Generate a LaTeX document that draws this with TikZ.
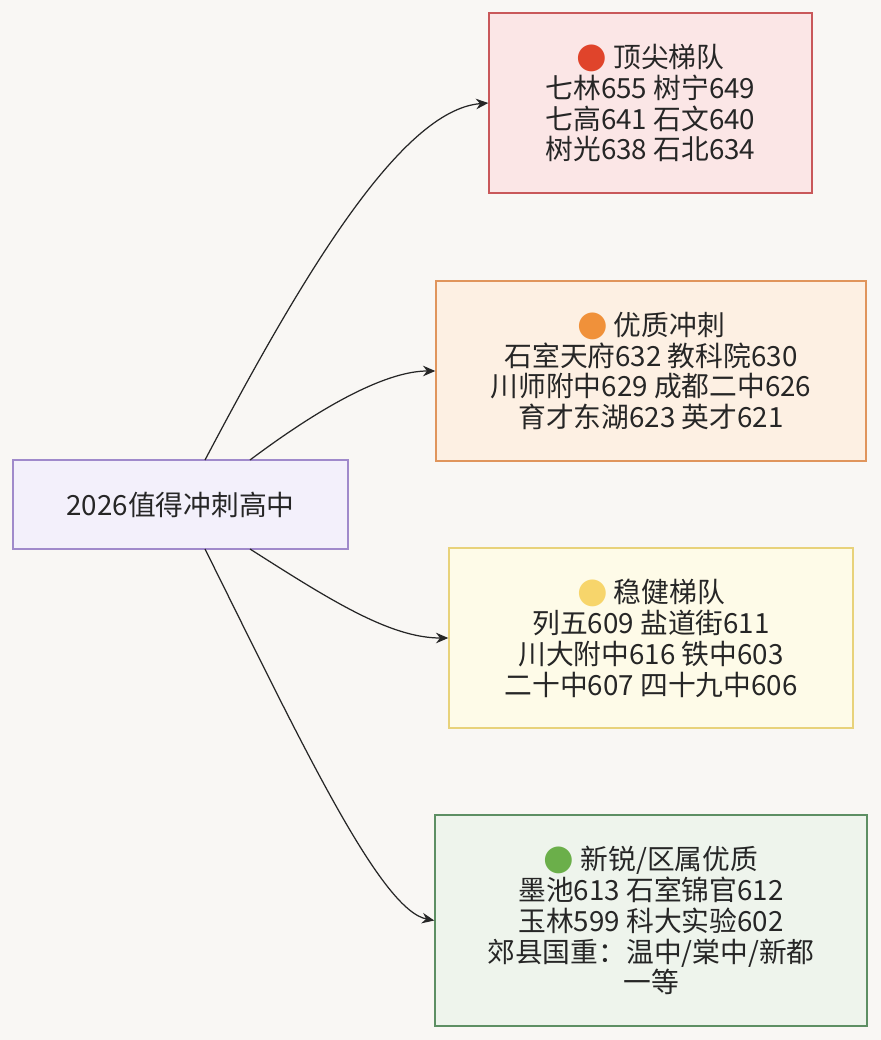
\documentclass[tikz,border=0pt]{standalone}
\usepackage{fontspec}
\setmainfont{Noto Sans CJK SC}
\newfontfamily\dotfont{DejaVu Sans}
\usetikzlibrary{arrows.meta}
\definecolor{bgc}{HTML}{F9F7F4}
\definecolor{srcfill}{HTML}{F3F0FB}\definecolor{srcline}{HTML}{A08ACB}
\definecolor{redfill}{HTML}{FBE6E6}\definecolor{redline}{HTML}{C9585A}
\definecolor{orgfill}{HTML}{FDF0E3}\definecolor{orgline}{HTML}{E0955C}
\definecolor{yelfill}{HTML}{FEFBE8}\definecolor{yelline}{HTML}{E8D27A}
\definecolor{grnfill}{HTML}{EEF4EC}\definecolor{grnline}{HTML}{5D8F63}
\definecolor{dotred}{HTML}{E0442B}\definecolor{dotorg}{HTML}{F0913A}
\definecolor{dotyel}{HTML}{F7D56B}\definecolor{dotgrn}{HTML}{6BAF4A}
\newcommand{\mydot}[1]{{\dotfont\fontsize{20}{17.6}\selectfont\color{#1}●}}
\tikzset{
  box/.style={rectangle,draw,line width=0.8pt,align=center,font=\fontsize{15.8}{17.6}\selectfont,text=black!85,inner sep=0pt},
  link/.style={draw=black!85,line width=0.7pt,-{Stealth[length=7pt,width=6pt]}}
}
\begin{document}
\begin{tikzpicture}[x=0.02cm,y=-0.02cm]
\fill[bgc] (0,0) rectangle (881,1040);
\useasboundingbox (0,0) rectangle (881,1040);
\node[box,fill=srcfill,draw=srcline,minimum width=335*0.02cm,minimum height=89*0.02cm] (src) at (180.5,504.5) {2026值得冲刺高中};
\node[box,fill=redfill,draw=redline,minimum width=323*0.02cm,minimum height=180*0.02cm] (top) at (650.5,103) {\mydot{dotred} 顶尖梯队\\七林655 树宁649\\七高641 石文640\\树光638 石北634};
\node[box,fill=orgfill,draw=orgline,minimum width=430*0.02cm,minimum height=180*0.02cm] (good) at (651,371) {\mydot{dotorg} 优质冲刺\\石室天府632 教科院630\\川师附中629 成都二中626\\育才东湖623 英才621};
\node[box,fill=yelfill,draw=yelline,minimum width=404*0.02cm,minimum height=180*0.02cm] (safe) at (651,638) {\mydot{dotyel} 稳健梯队\\列五609 盐道街611\\川大附中616 铁中603\\二十中607 四十九中606};
\node[box,fill=grnfill,draw=grnline,minimum width=432*0.02cm,minimum height=211*0.02cm] (new) at (651,920.5) {\mydot{dotgrn} 新锐/区属优质\\墨池613 石室锦官612\\玉林599 科大实验602\\郊县国重：温中/棠中/新都\\一等};
\coordinate (s1) at (205,460);
\coordinate (s2) at (250,460);
\coordinate (s3) at (250,549);
\coordinate (s4) at (205,549);
\draw[link] (s1) .. controls (300,280) and (400,110) .. (top.west);
\draw[link] (s2) .. controls (330,400) and (390,371) .. (good.west);
\draw[link] (s3) .. controls (330,600) and (390,638) .. (safe.west);
\draw[link] (s4) .. controls (300,740) and (380,910) .. (new.west);
\end{tikzpicture}
\end{document}
